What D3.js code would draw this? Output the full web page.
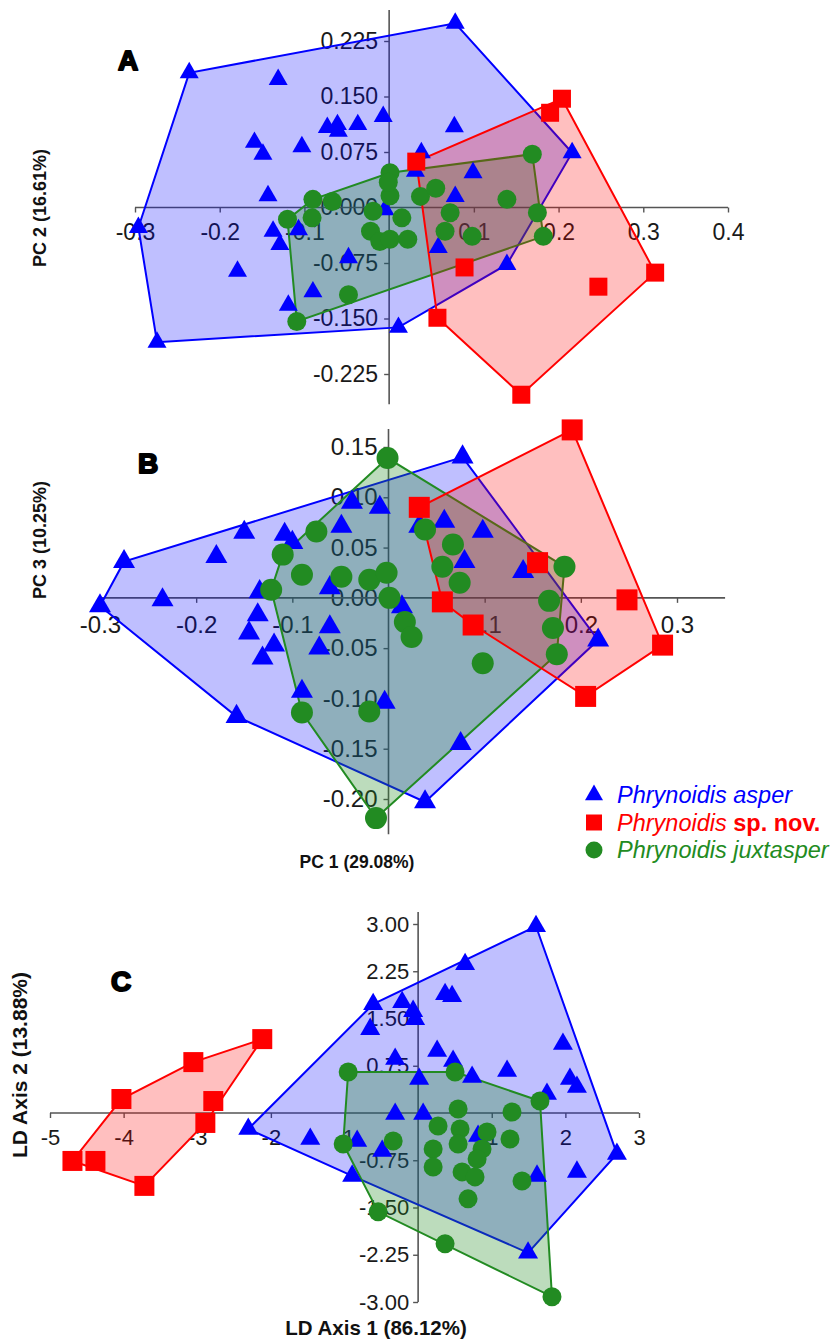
<!DOCTYPE html>
<html><head><meta charset="utf-8">
<script src="https://cdn.jsdelivr.net/npm/d3@7"></script>
<style>body{margin:0;background:#fff}svg{display:block}</style>
</head><body>
<svg id="chart" width="837" height="1342"></svg>
<script>
// ---- Panel A: PCA scores, PC1 vs PC2 ----
const pc12Asper = [[-0.236,0.182],[-0.131,0.173],[0.078,0.249],[-0.073,0.108],[-0.061,0.112],[-0.060,0.103],
  [-0.037,0.112],[-0.007,0.123],[-0.159,0.088],[-0.149,0.072],[-0.103,0.082],[0.077,0.109],[0.216,0.074],
  [0.038,0.074],[0.031,0.049],[0.099,0.047],[0.078,0.015],[-0.143,0.016],[-0.296,-0.027],[-0.137,-0.032],
  [-0.129,-0.050],[-0.107,-0.030],[-0.179,-0.086],[-0.048,-0.068],[-0.005,-0.003],[-0.090,-0.114],
  [-0.119,-0.132],[-0.274,-0.182],[0.011,-0.162],[0.139,-0.077],[0.058,-0.054]];
const pc12SpNov = [[0.032,0.062],[0.190,0.128],[0.204,0.147],[0.089,-0.081],[0.057,-0.149],[0.314,-0.088],
  [0.247,-0.107],[0.156,-0.253]];
const pc12Juxtasper = [[0.001,0.047],[0.169,0.072],[-0.090,0.011],[-0.067,0.008],[-0.120,-0.016],[-0.091,-0.014],
  [-0.109,-0.154],[-0.048,-0.118],[-0.019,-0.005],[0.015,-0.014],[-0.022,-0.032],[-0.011,-0.046],[0.001,-0.043],
  [0.022,-0.043],[0.001,0.016],[-0.001,0.034],[0.037,0.015],[0.055,0.026],[0.072,-0.007],[0.066,-0.032],
  [0.098,-0.039],[0.139,0.011],[0.175,-0.007],[0.182,-0.039]];

// ---- Panel B: PCA scores, PC1 vs PC3 ----
const pc13Asper = [[-0.275,0.036],[-0.300,-0.008],[-0.235,-0.002],[-0.179,0.041],[-0.150,0.065],[-0.108,0.063],
  [-0.100,0.055],[-0.049,0.071],[-0.038,0.095],[-0.009,0.090],[-0.134,0.006],[-0.061,0.010],[-0.136,-0.017],
  [-0.145,-0.035],[-0.119,-0.047],[-0.131,-0.060],[-0.061,-0.029],[-0.072,-0.050],[-0.090,-0.093],
  [-0.158,-0.118],[-0.004,-0.104],[0.038,-0.203],[0.014,-0.009],[0.077,0.140],[0.032,0.071],[0.058,0.076],
  [0.098,0.066],[0.079,0.036],[0.140,0.026],[0.218,-0.042],[0.075,-0.145]];
const pc13SpNov = [[0.191,0.167],[0.032,0.090],[0.155,0.035],[0.056,-0.004],[0.248,-0.002],[0.088,-0.027],
  [0.285,-0.047],[0.205,-0.098]];
const pc13Juxtasper = [[-0.001,0.139],[-0.075,0.066],[-0.110,0.043],[-0.090,0.023],[-0.122,0.008],[-0.049,0.021],
  [-0.020,0.018],[-0.002,0.025],[0.001,0.000],[0.038,0.068],[0.067,0.053],[0.056,0.031],[0.074,0.015],
  [0.183,0.031],[0.017,-0.024],[0.024,-0.039],[-0.090,-0.114],[-0.020,-0.113],[-0.013,-0.219],[0.167,-0.003],
  [0.171,-0.030],[0.175,-0.056],[0.098,-0.065]];

// ---- Panel C: discriminant scores, LD1 vs LD2 ----
const ldAsper = [[1.601,2.964],[0.638,2.361],[-0.611,1.727],[-0.217,1.759],[-0.068,1.617],[-0.041,1.490],
  [-0.651,1.331],[0.366,1.886],[0.461,1.854],[1.967,1.094],[0.258,0.983],[0.475,0.824],[-0.312,0.856],
  [0.014,0.539],[0.733,0.571],[1.208,0.666],[2.062,0.539],[2.157,0.412],[1.750,0.301],[-0.312,-0.016],
  [0.068,-0.016],[-2.307,-0.254],[-1.465,-0.412],[-0.828,-0.444],[-0.488,-0.602],[-0.896,-0.998],
  [0.814,-0.365],[1.615,-0.998],[2.157,-0.935],[2.700,-0.650],[1.493,-2.219]];
const ldSpNov = [[-2.117,1.173],[-3.053,0.808],[-4.030,0.222],[-2.782,0.190],[-2.890,-0.158],[-4.695,-0.761],
  [-4.383,-0.761],[-3.718,-1.157]];
const ldJuxtasper = [[-0.950,0.650],[0.502,0.650],[1.655,0.190],[0.543,0.063],[1.275,0.016],[-1.018,-0.491],
  [-0.339,-0.444],[0.271,-0.206],[0.570,-0.254],[0.936,-0.301],[0.204,-0.571],[0.543,-0.491],[0.868,-0.571],
  [1.248,-0.412],[0.204,-0.856],[0.597,-0.935],[0.801,-0.729],[0.773,-1.014],[1.411,-1.078],[0.678,-1.363],
  [-0.543,-1.569],[0.366,-2.076],[1.818,-2.916]];

// ---- Tick values ----
const ticksAx = [-0.3,-0.2,-0.1,0.1,0.2,0.3,0.4];
const ticksAy = [-0.225,-0.15,-0.075,0,0.075,0.15,0.225];
const ticksBx = [-0.3,-0.2,-0.1,0.1,0.2,0.3];
const ticksBy = [-0.2,-0.15,-0.1,-0.05,0,0.05,0.1,0.15];
const ticksCx = [-5,-4,-3,-2,-1,1,2,3];
const ticksCy = [-3,-2.25,-1.5,-0.75,0.75,1.5,2.25,3];

const speciesLabels = ["Phrynoidis", "Phrynoidis", "Phrynoidis"];
const speciesEpithets = ["asper", "sp. nov.", "juxtasper"];

// ---- Styling ----
const COL = {asper:"#0000ff", novum:"#ff0000", juxta:"#228b22"};
const FILL = {asper:"rgba(0,0,255,0.25)", novum:"rgba(255,0,0,0.25)", juxta:"rgba(34,139,34,0.3)"};
const AXIS = "#555";
const FONT = "'Liberation Sans', Arial, sans-serif";

const svg = d3.select("#chart");
svg.append("rect").attr("width",837).attr("height",1342).attr("fill","#fff");

const panels = [
  { groups:{asper:pc12Asper, novum:pc12SpNov, juxta:pc12Juxtasper},
    xDom:[-0.3,0.4], xRng:[135,728], yDom:[-0.225,0.225], yRng:[374,41],
    xLine:[-0.3,0.4], yLine:[-0.266,0.267], xTicks:ticksAx, yTicks:ticksAy, xDec:1, yDec:3,
    font:23, xPad:11, yPad:6, tri:19, sq:18, r:9.5 },
  { groups:{asper:pc13Asper, novum:pc13SpNov, juxta:pc13Juxtasper},
    xDom:[-0.3,0.3], xRng:[100,677], yDom:[-0.2,0.15], yRng:[799,447],
    xLine:[-0.3,0.35], yLine:[-0.235,0.168], xTicks:ticksBx, yTicks:ticksBy, xDec:1, yDec:2,
    font:24, xPad:13, yPad:6, tri:22, sq:21, r:11 },
  { groups:{asper:ldAsper, novum:ldSpNov, juxta:ldJuxtasper},
    xDom:[-5,3], xRng:[50,639], yDom:[-3,3], yRng:[1302,924],
    xLine:[-5,3], yLine:[-3,3.19], xTicks:ticksCx, yTicks:ticksCy, xDec:0, yDec:2,
    font:22, xPad:11, yPad:4, tri:20, sq:20, r:9.5 }
];

function marker(g, kind, pts, x, y, p) {
  const sel = g.selectAll(null).data(pts).enter();
  if (kind === "juxta") {
    sel.append("circle").attr("cx", d => x(d[0])).attr("cy", d => y(d[1]))
      .attr("r", p.r).attr("fill", COL.juxta);
  } else {
    const sym = kind === "asper"
      ? d3.symbol().type(d3.symbolTriangle).size(p.tri*p.tri*Math.sqrt(3)/4)
      : d3.symbol().type(d3.symbolSquare).size(p.sq*p.sq);
    sel.append("path").attr("d", sym)
      .attr("transform", d => `translate(${x(d[0])},${y(d[1])})`)
      .attr("fill", COL[kind]);
  }
}

panels.forEach(p => {
  const x = d3.scaleLinear().domain(p.xDom).range(p.xRng);
  const y = d3.scaleLinear().domain(p.yDom).range(p.yRng);
  const g = svg.append("g");

  // axes crossing at the origin
  const ax = g.append("g").attr("transform", `translate(0,${y(0)})`)
    .call(d3.axisBottom(x).tickValues(p.xTicks).tickSize(5).tickSizeOuter(0)
      .tickPadding(p.xPad).tickFormat(d => d.toFixed(p.xDec)));
  const ay = g.append("g").attr("transform", `translate(${x(0)},0)`)
    .call(d3.axisLeft(y).tickValues(p.yTicks).tickSize(5).tickSizeOuter(0)
      .tickPadding(p.yPad).tickFormat(d => d.toFixed(p.yDec)));
  [ax, ay].forEach(a => {
    a.select(".domain").remove();
    a.selectAll("line").attr("stroke", AXIS).attr("stroke-width", 1.4);
    a.selectAll("text").attr("fill", "#1a1a1a").style("font-family", FONT).style("font-size", p.font + "px");
  });
  g.append("line").attr("x1", x(p.xLine[0])).attr("x2", x(p.xLine[1]))
    .attr("y1", y(0)).attr("y2", y(0)).attr("stroke", AXIS).attr("stroke-width", 1.6);
  g.append("line").attr("x1", x(0)).attr("x2", x(0))
    .attr("y1", y(p.yLine[0])).attr("y2", y(p.yLine[1])).attr("stroke", AXIS).attr("stroke-width", 1.6);

  // convex hulls
  ["asper", "juxta", "novum"].forEach(k => {
    const hull = d3.polygonHull(p.groups[k].map(d => [x(d[0]), y(d[1])]));
    g.append("path").attr("d", "M" + hull.join("L") + "Z")
      .attr("fill", FILL[k]).attr("stroke", COL[k]).attr("stroke-width", 2)
      .attr("stroke-linejoin", "miter");
  });

  // specimen markers
  ["asper", "novum", "juxta"].forEach(k => marker(g, k, p.groups[k], x, y, p));
});

// panel letters
const letters = [["A",128,60],["B",148,463],["C",121,981]];
svg.selectAll(null).data(letters).enter().append("text")
  .attr("x", d => d[1]).attr("y", d => d[2]).attr("text-anchor","middle").attr("dominant-baseline","central")
  .style("font-family", FONT).style("font-weight", 900).style("font-size", "28px")
  .attr("stroke", "#000").attr("stroke-width", 2).attr("stroke-linejoin","round").text(d => d[0]);

// axis titles
const titles = [
  {t:"PC 2 (16.61%)", x:40, y:208, rot:true, s:18},
  {t:"PC 3 (10.25%)", x:40, y:540, rot:true, s:18},
  {t:"PC 1 (29.08%)", x:357, y:862, rot:false, s:17.5},
  {t:"LD Axis 2 (13.88%)", x:19, y:1065, rot:true, s:21},
  {t:"LD Axis 1 (86.12%)", x:376, y:1327, rot:false, s:20.5}
];
svg.selectAll(null).data(titles).enter().append("text")
  .attr("transform", d => `translate(${d.x},${d.y})` + (d.rot ? " rotate(-90)" : ""))
  .attr("text-anchor","middle").attr("dominant-baseline","central")
  .style("font-family", FONT).style("font-weight", "bold").style("font-size", d => d.s + "px")
  .attr("fill","#111").text(d => d.t);

// legend
const legendKinds = ["asper","novum","juxta"];
const lg = svg.append("g");
legendKinds.forEach((k, i) => {
  const cy = 795 + i * 27.5, cx = 594;
  if (k === "juxta") lg.append("circle").attr("cx", cx).attr("cy", cy).attr("r", 8.5).attr("fill", COL[k]);
  else lg.append("path")
    .attr("d", d3.symbol().type(k === "asper" ? d3.symbolTriangle : d3.symbolSquare)
      .size(k === "asper" ? 18*18*Math.sqrt(3)/4 : 16*16))
    .attr("transform", `translate(${cx},${cy})`).attr("fill", COL[k]);
  const t = lg.append("text").attr("x", 617).attr("y", cy).attr("dominant-baseline","central")
    .style("font-family", FONT).style("font-size", "23.5px").attr("fill", COL[k]);
  t.append("tspan").style("font-style","italic").text(speciesLabels[i] + " ");
  t.append("tspan").style("font-style", k === "novum" ? "normal" : "italic")
    .style("font-weight", k === "novum" ? "bold" : "normal").text(speciesEpithets[i]);
});
</script>
</body></html>
